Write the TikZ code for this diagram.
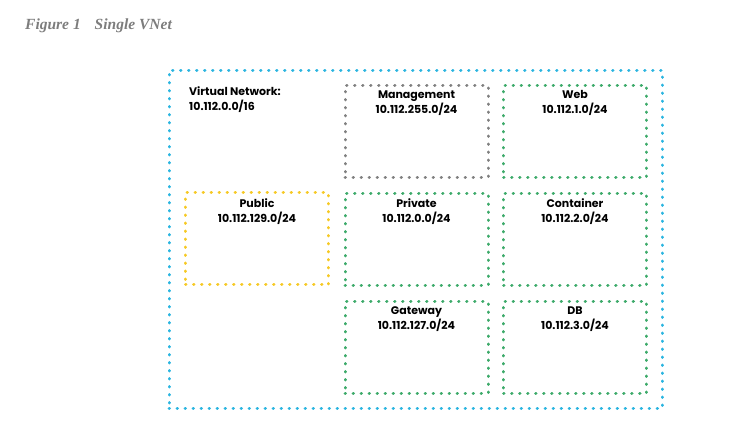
\documentclass[tikz,border=0pt]{standalone}
\usepackage{fontspec}
\setmainfont{Poppins}
\newfontfamily\captionfont{Liberation Serif}
\usetikzlibrary{positioning}

\definecolor{vnetblue}{RGB}{43,181,224}
\definecolor{subgreen}{RGB}{61,170,106}
\definecolor{subgray}{RGB}{128,128,128}
\definecolor{subyellow}{RGB}{246,201,36}
\definecolor{captiongray}{RGB}{125,125,125}

\begin{document}
\begin{tikzpicture}[
        x=1pt, y=-1pt,
        dotted line/.style={line width=3pt, line cap=round, dash pattern=on 0.5pt off 7.5pt},
        subnet/.style={rectangle, draw=#1, dotted line, minimum width=143pt,
            minimum height=92pt, inner sep=0pt},
        subnet label/.style={font=\bfseries\fontsize{11}{15}\selectfont,
            align=center, anchor=north, inner sep=0pt},
        every node/.style={color=black}
        ]
        \useasboundingbox (0,0) rectangle (742,446);

        % caption
        \node[anchor=base west, inner sep=0pt, text=captiongray,
            font=\captionfont\bfseries\itshape\fontsize{15.5}{17}\selectfont]
            (caption) at (25,30) {Figure 1\hspace{14pt}Single VNet};

        % virtual network
        \node[draw=vnetblue, dotted line, rectangle, minimum width=493pt,
            minimum height=338pt, inner sep=0pt] (vnet) at (415.5,239.5) {};
        \node[subnet label, anchor=north west, align=left] (vnetlabel)
            at (189,86) {Virtual Network:\\10.112.0.0/16};

        % subnets
        \node[subnet=subgray]   (mgmt)      at (416.5,131.5) {};
        \node[subnet=subgreen]  (web)       at (575,131.5)   {};
        \node[subnet=subyellow] (public)    at (257,239)     {};
        \node[subnet=subgreen]  (private)   at (416.5,239.5) {};
        \node[subnet=subgreen]  (container) at (575,239.5)   {};
        \node[subnet=subgreen]  (gateway)   at (416.5,347.5) {};
        \node[subnet=subgreen]  (db)        at (575,347.5)   {};

        \node[subnet label, below=6.5pt of mgmt.north]      {Management\\10.112.255.0/24};
        \node[subnet label, below=6.5pt of web.north]       {Web\\10.112.1.0/24};
        \node[subnet label, below=6.5pt of public.north]    {Public\\10.112.129.0/24};
        \node[subnet label, below=6.5pt of private.north]   {Private\\10.112.0.0/24};
        \node[subnet label, below=6.5pt of container.north] {Container\\10.112.2.0/24};
        \node[subnet label, below=6.5pt of gateway.north]   {Gateway\\10.112.127.0/24};
        \node[subnet label, below=6.5pt of db.north]        {DB\\10.112.3.0/24};

    \end{tikzpicture}
\end{document}
